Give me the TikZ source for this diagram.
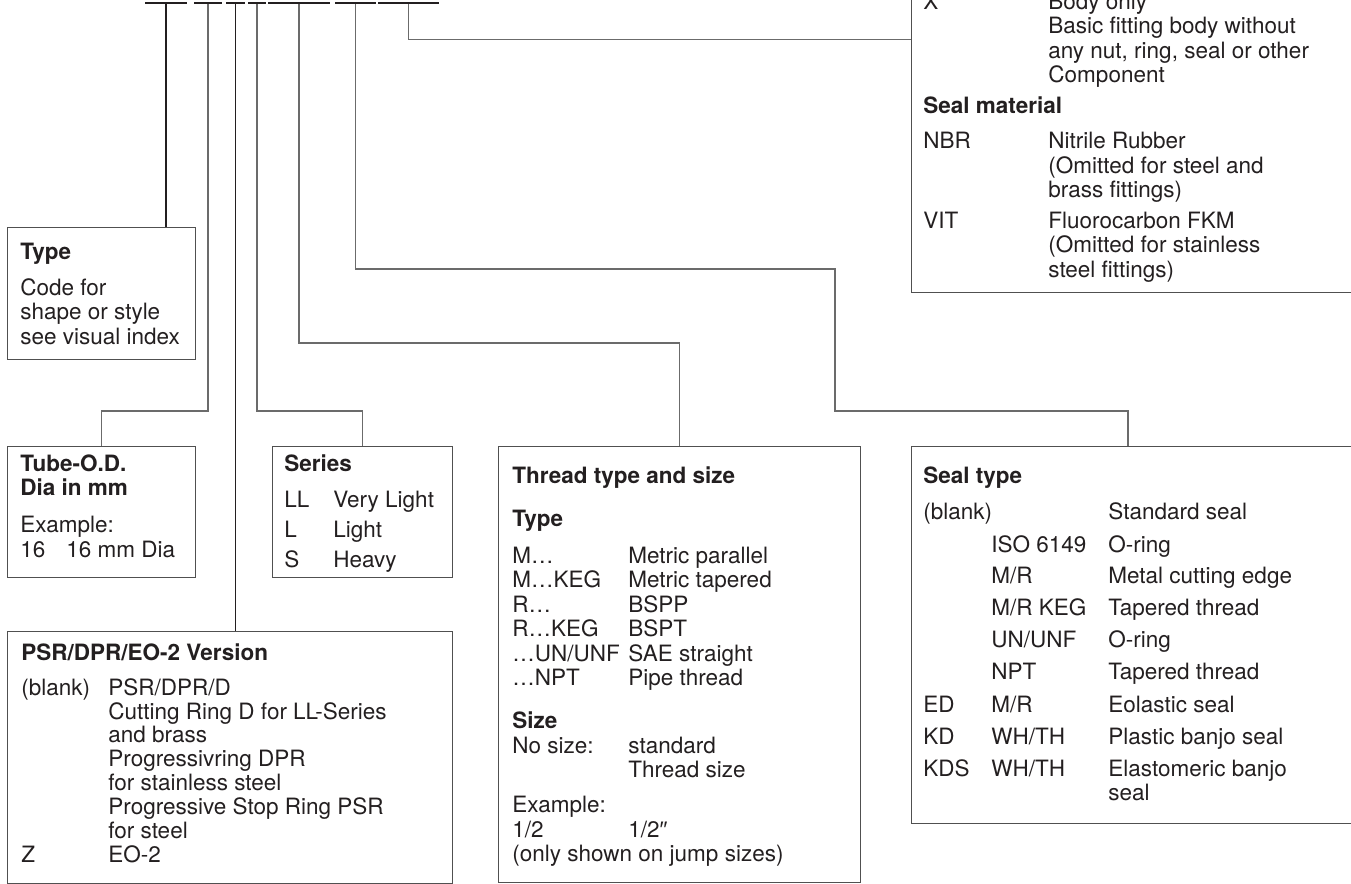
\documentclass[tikz,border=0pt]{standalone}
\usepackage{fontspec}
\setmainfont{TeX Gyre Heros}
\newfontfamily\primefont{Liberation Sans}
\usepackage{tikz}
\usetikzlibrary{calc}
\definecolor{InkBlack}{HTML}{231F20}
\definecolor{LeadGray}{HTML}{6B6B6B}
\definecolor{BoxLine}{HTML}{505050}
\newcommand{\infofont}{\fontsize{11.25}{12.25}\selectfont}
\newcommand{\fullrow}[2]{\multicolumn{#1}{@{}l@{}}{#2}}

\begin{document}
\begin{tikzpicture}[x=0.5pt,y=-0.5pt]
  \tikzstyle{codebar}=[fill=InkBlack,inner sep=0pt,minimum height=1pt]
  \tikzstyle{infobox}=[draw=BoxLine,line width=0.7pt,inner sep=0pt,anchor=north west]
  \tikzstyle{infotext}=[anchor=base west,inner sep=0pt,text=InkBlack,font=\infofont]
  \tikzstyle{lead}=[draw=LeadGray,line width=0.65pt]
  \tikzstyle{leaddark}=[draw=InkBlack,line width=0.85pt]
  \useasboundingbox (0,0) rectangle (1351,884);

  \node[codebar,minimum width=21pt] (k1) at (166,3) {};
  \node[codebar,minimum width=14pt] (k2) at (208,3) {};
  \node[codebar,minimum width=9.5pt] (k3) at (235.5,3) {};
  \node[codebar,minimum width=9pt] (k4) at (257,3) {};
  \node[codebar,minimum width=31pt] (k5) at (299,3) {};
  \node[codebar,minimum width=20.5pt] (k6) at (355.5,3) {};
  \node[codebar,minimum width=30.5pt] (k7) at (408.5,3) {};

  \node[infobox,minimum width=94pt,minimum height=66pt] (typebox) at (7,227) {};
  \node[infobox,minimum width=94pt,minimum height=65.5pt] (tubebox) at (7,446) {};
  \node[infobox,minimum width=90pt,minimum height=65.5pt] (seriesbox) at (272,446) {};
  \node[infobox,minimum width=222.5pt,minimum height=126pt] (psrbox) at (7,631) {};
  \node[infobox,minimum width=181pt,minimum height=218pt] (threadbox) at (498,446) {};
  \node[infobox,minimum width=250pt,minimum height=188.5pt] (sealbox) at (911,446) {};
  \node[infobox,minimum width=250pt,minimum height=253pt] (matbox) at (911,-214) {};

  \coordinate (rowA) at (0,411);
  \coordinate (rowB) at (0,343);
  \coordinate (bendC) at (835,269);

  \draw[leaddark] (k1.south) -- (k1.south |- typebox.north);
  \draw[lead] (k2.south) -- (k2.south |- rowA) -| (tubebox.north);
  \draw[leaddark] (k3.south) -- (k3.south |- psrbox.north);
  \draw[lead] (k4.south) -- (k4.south |- rowA) -| (seriesbox.north);
  \draw[lead] (k5.south) -- (k5.south |- rowB) -| (threadbox.north);
  \draw[lead] (k6.south) |- (bendC) -- (bendC |- rowA) -| ($(sealbox.north west)+(217,0)$);
  \draw[lead] (k7.south) |- (matbox.west);

  \node[infotext] (typetxt) at (20,259) {\begin{tabular}[t]{@{}l@{}}
    \textbf{Type}\\[5.75pt]
    Code for\\
    shape or style\\
    see visual index
  \end{tabular}};

  \node[infotext] (tubetxt) at (20,471) {\begin{tabular}[t]{@{}p{23pt}@{}l@{}}
    \fullrow{2}{\textbf{Tube-O.D.}}\\
    \fullrow{2}{\textbf{Dia in mm}}\\[6.25pt]
    \fullrow{2}{Example:}\\
    16 & 16 mm Dia
  \end{tabular}};

  \node[infotext] (seriestxt) at (284,471) {\begin{tabular}[t]{@{}p{24.5pt}@{}l@{}}
    \fullrow{2}{\textbf{Series}}\\[5.75pt]
    LL & Very Light\\[2.75pt]
    L & Light\\[2.75pt]
    S & Heavy
  \end{tabular}};

  \node[infotext] (psrtxt) at (21,660) {\renewcommand{\arraystretch}{0.974}%
  \begin{tabular}[t]{@{}p{43.5pt}@{}l@{}}
    \fullrow{2}{\textbf{PSR/DPR/EO-2 Version}}\\[5.57pt]
    (blank) & PSR/DPR/D\\
    & Cutting Ring D for LL-Series\\
    & and brass\\
    & Progressivring DPR\\
    & for stainless steel\\
    & Progressive Stop Ring PSR\\
    & for steel\\
    Z & EO-2
  \end{tabular}};

  \node[infotext] (threadtxt) at (512,483) {\begin{tabular}[t]{@{}p{58pt}@{}l@{}}
    \fullrow{2}{\textbf{Thread type and size}}\\[9.25pt]
    \fullrow{2}{\textbf{Type}}\\[6.25pt]
    M… & Metric parallel\\
    M…KEG & Metric tapered\\
    R… & BSPP\\
    R…KEG & BSPT\\
    …UN/UNF & SAE straight\\
    …NPT & Pipe thread\\[9.25pt]
    \fullrow{2}{\textbf{Size}}\\
    No size: & standard\\
    & Thread size\\[5.25pt]
    \fullrow{2}{Example:}\\
    1/2 & 1/2{\primefont″}\\
    \fullrow{2}{(only shown on jump sizes)}
  \end{tabular}};

  \node[infotext] (sealtxt) at (923,483) {\begin{tabular}[t]{@{}p{34pt}@{}p{58.5pt}@{}l@{}}
    \fullrow{3}{\textbf{Seal type}}\\[5.75pt]
    \fullrow{2}{(blank)} & Standard seal\\[4.25pt]
    & ISO 6149 & O-ring\\[3.25pt]
    & M/R & Metal cutting edge\\[3.75pt]
    & M/R KEG & Tapered thread\\[3.75pt]
    & UN/UNF & O-ring\\[3.75pt]
    & NPT & Tapered thread\\[4.25pt]
    ED & M/R & Eolastic seal\\[3.75pt]
    KD & WH/TH & Plastic banjo seal\\[3.75pt]
    KDS & WH/TH & Elastomeric banjo\\
    & & seal
  \end{tabular}};

  \node[infotext] (mattxt) at (923,9) {\begin{tabular}[t]{@{}p{62.5pt}@{}l@{}}
    X & Body only\\
    & Basic fitting body without\\
    & any nut, ring, seal or other\\
    & Component\\[3.25pt]
    \fullrow{2}{\textbf{Seal material}}\\[5.25pt]
    NBR & Nitrile Rubber\\
    & (Omitted for steel and\\
    & brass fittings)\\[3.25pt]
    VIT & Fluorocarbon FKM\\
    & (Omitted for stainless\\
    & steel fittings)
  \end{tabular}};
\end{tikzpicture}
\end{document}
